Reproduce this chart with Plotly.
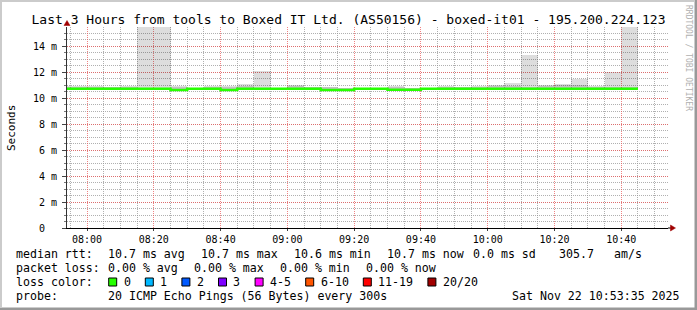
import plotly.graph_objects as go
from datetime import datetime, timedelta

# ---------------- data ----------------
DAY = "2025-11-22"
interval_start = ["07:50", "07:55", "08:00", "08:05", "08:10", "08:15", "08:20", "08:25",
                  "08:30", "08:35", "08:40", "08:45", "08:50", "08:55", "09:00", "09:05",
                  "09:10", "09:15", "09:20", "09:25", "09:30", "09:35", "09:40", "09:45",
                  "09:50", "09:55", "10:00", "10:05", "10:10", "10:15", "10:20", "10:25",
                  "10:30", "10:35", "10:40"]
median_ms = [10.72, 10.72, 10.72, 10.72, 10.72, 10.72, 10.72, 10.62,
             10.72, 10.72, 10.62, 10.72, 10.72, 10.72, 10.72, 10.72,
             10.62, 10.62, 10.72, 10.72, 10.64, 10.64, 10.72, 10.72,
             10.72, 10.72, 10.72, 10.72, 10.72, 10.72, 10.72, 10.72,
             10.72, 10.72, 10.72]
smoke_max_ms = [10.92, 10.92, 10.92, 10.85, 10.95, 16.00, 16.00, 10.95,
                10.80, 10.95, 10.90, 11.05, 12.10, 10.80, 11.00, 10.82,
                10.82, 10.80, 10.80, 10.80, 10.92, 10.74, 10.80, 10.90,
                10.85, 10.90, 11.00, 11.15, 13.30, 10.97, 11.07, 11.50,
                10.90, 12.00, 16.00]
smoke_core_ms = [10.88, 10.88, 10.88, 10.85, 10.88, 10.76, 10.76, 10.88,
                 10.80, 10.88, 10.88, 10.90, 10.76, 10.80, 10.90, 10.82,
                 10.82, 10.80, 10.80, 10.80, 10.88, 10.74, 10.80, 10.88,
                 10.85, 10.88, 10.90, 10.92, 10.85, 10.90, 10.97, 10.97,
                 10.88, 10.85, 10.85]
smoke_min_ms = [10.64, 10.64, 10.64, 10.64, 10.64, 10.64, 10.64, 10.55,
                10.64, 10.64, 10.55, 10.64, 10.64, 10.64, 10.64, 10.64,
                10.55, 10.55, 10.64, 10.64, 10.56, 10.56, 10.64, 10.64,
                10.64, 10.64, 10.64, 10.64, 10.64, 10.64, 10.64, 10.64,
                10.64, 10.64, 10.64]

y_tick_vals = [0, 2, 4, 6, 8, 10, 12, 14]
y_tick_text = ["0\u00a0\u00a0", "2 m", "4 m", "6 m", "8 m", "10 m", "12 m", "14 m"]

title_text = "Last 3 Hours from tools to Boxed IT Ltd. (AS50156) - boxed-it01 - 195.200.224.123"
stats_rtt = ["median rtt:", "10.7 ms avg", "10.7 ms max", "10.6 ms min", "10.7 ms now",
             "0.0 ms sd", "305.7", "am/s"]
stats_loss = ["packet loss:", "0.00 % avg", "0.00 % max", "0.00 % min", "0.00 % now"]
loss_labels = ["0", "1", "2", "3", "4-5", "6-10", "11-19", "20/20"]
loss_colors = ["#26ff00", "#00b8ff", "#0059ff", "#7e00ff", "#ff00ff", "#ff5500", "#ff0000", "#a10000"]
probe_text = ["probe:", "20 ICMP Echo Pings (56 Bytes) every 300s"]
date_text = "Sat Nov 22 10:53:35 2025"

# ---------------- geometry helpers ----------------
W, H = 697, 310
L, R, T, B = 67, 668, 27, 228
MONO = "DejaVu Sans Mono"


def px(x):
    return (x - L) / (R - L)


def py(y):
    return (B - y) / (B - T)


starts = [datetime.fromisoformat(f"{DAY} {s}:00") for s in interval_start]
step = timedelta(minutes=5)
centers = [s + step / 2 for s in starts]

fig = go.Figure()

# outer smoke (min..max)
fig.add_trace(go.Bar(
    x=centers, y=[mx - mn for mx, mn in zip(smoke_max_ms, smoke_min_ms)], base=smoke_min_ms,
    width=300000, marker=dict(color="rgba(0,0,0,0.135)", line=dict(width=0)),
    hoverinfo="skip"))
# inner smoke (core pings)
fig.add_trace(go.Bar(
    x=centers, y=[c - mn for c, mn in zip(smoke_core_ms, smoke_min_ms)], base=smoke_min_ms,
    width=300000, marker=dict(color="rgba(0,0,0,0.12)", line=dict(width=0)),
    hoverinfo="skip"))
# median line
fig.add_trace(go.Scatter(
    x=starts + [starts[-1] + step], y=median_ms + [median_ms[-1]],
    mode="lines", line=dict(color=loss_colors[0], width=2.5, shape="hv"),
    hoverinfo="skip"))

grid_major = "rgba(235,90,90,0.75)"
grid_minor = "rgba(150,150,150,0.75)"

fig.update_layout(
    width=W, height=H,
    margin=dict(l=L, r=W - R, t=T, b=H - B, pad=0),
    paper_bgcolor="#ffffff", plot_bgcolor="#ffffff",
    showlegend=False, barmode="overlay", bargap=0,
    font=dict(family=MONO, size=10, color="#000000"),
    title=dict(text=title_text, x=0.5, xref="container", xanchor="center",
               y=1 - 19 / H, yref="container", yanchor="middle",
               font=dict(family=MONO, size=13, color="#000000")),
    xaxis=dict(
        type="date",
        range=[f"{DAY} 07:54:00", f"{DAY} 10:54:00"],
        tick0=f"{DAY} 08:00:00", dtick=20 * 60 * 1000, tickformat="%H:%M",
        showgrid=True, gridcolor=grid_major, griddash="1px,1px", gridwidth=1,
        ticks="outside", ticklen=2, tickcolor="#444444",
        tickfont=dict(family=MONO, size=10, color="#000000"),
        showline=True, linecolor="#000000", linewidth=1, zeroline=False,
        minor=dict(dtick=5 * 60 * 1000, showgrid=True, gridcolor=grid_minor,
                   griddash="1px,1px", ticks="", ticklen=0),
        fixedrange=True,
    ),
    yaxis=dict(
        range=[0, (B - T) / 13.0],
        tickmode="array", tickvals=y_tick_vals, ticktext=y_tick_text,
        showgrid=True, gridcolor=grid_major, griddash="1px,1px", gridwidth=1,
        ticks="outside", ticklen=4, tickcolor="#444444",
        ticklabelstandoff=3,
        tickfont=dict(family=MONO, size=10, color="#000000"),
        showline=True, linecolor="#333333", linewidth=1, zeroline=False,
        minor=dict(dtick=0.5, showgrid=True, gridcolor=grid_minor,
                   griddash="1px,1px", ticks="outside", ticklen=2, tickcolor="#777777"),
        fixedrange=True,
    ),
)

ann = []


def text(x, y, s, anchor="left", size=11.6, color="#000000", angle=0, family=MONO):
    ann.append(dict(x=px(x), y=py(y), xref="paper", yref="paper", text=s, showarrow=False,
                    xanchor=anchor, yanchor="middle", borderpad=0, textangle=angle,
                    font=dict(family=family, size=size, color=color)))


# y-axis title
text(11, 128, "Seconds", anchor="center", size=11, angle=-90)
# rrdtool credit
text(688, 58, "RRDTOOL / TOBI OETIKER", anchor="center", size=8, color="#b0b0b0", angle=90)

# legend rows
rtt_x = [16, 107.3, 200.7, 293.3, 386.7, 472.7, 558.3, 614]
for s, x in zip(stats_rtt, rtt_x):
    text(x - 0.7, 254, s)
loss_x = [16, 107.3, 193.3, 279.3, 365.3]
for s, x in zip(stats_loss, loss_x):
    text(x - 0.7, 268, s)
text(16 - 0.7, 282, "loss color:")
shapes = []
bx = 108.7
for lab, col in zip(loss_labels, loss_colors):
    shapes.append(dict(type="rect", xref="paper", yref="paper",
                       x0=px(bx), x1=px(bx + 8), y0=py(286), y1=py(278),
                       fillcolor=col, line=dict(color="#000000", width=1)))
    text(bx + 14.6 - 0.7, 282, lab)
    bx = bx + 14.6 + 7.0 * len(lab) + 15.0
text(16 - 0.7, 296, probe_text[0])
text(107.3 - 0.7, 296, probe_text[1])
text(681, 296, date_text, anchor="right")

# axis arrows
shapes.append(dict(type="path", xref="paper", yref="paper",
                   path=f"M {px(64.0)} {py(25.5)} L {px(70.0)} {py(25.5)} L {px(67.0)} {py(20.5)} Z",
                   fillcolor="#a00000", line=dict(color="#a00000", width=0.5)))
shapes.append(dict(type="line", xref="paper", yref="paper",
                   x0=px(668), x1=px(671), y0=py(228), y1=py(228),
                   line=dict(color="#000000", width=1)))
shapes.append(dict(type="path", xref="paper", yref="paper",
                   path=f"M {px(670.5)} {py(225.0)} L {px(670.5)} {py(231.0)} L {px(675.5)} {py(228.0)} Z",
                   fillcolor="#a00000", line=dict(color="#a00000", width=0.5)))

# frame (3d border like rrdtool)
shapes.append(dict(type="rect", xref="paper", yref="paper",
                   x0=px(0), x1=px(W), y0=py(H), y1=py(H - 2.5), fillcolor="#999999",
                   line=dict(width=0)))
shapes.append(dict(type="rect", xref="paper", yref="paper",
                   x0=px(W - 2.5), x1=px(W), y0=py(H), y1=py(0), fillcolor="#999999",
                   line=dict(width=0)))
shapes.append(dict(type="rect", xref="paper", yref="paper",
                   x0=px(0), x1=px(W - 2.5), y0=py(2), y1=py(0), fillcolor="#cbcbcb",
                   line=dict(width=0)))
shapes.append(dict(type="rect", xref="paper", yref="paper",
                   x0=px(0), x1=px(2), y0=py(H - 2.5), y1=py(0), fillcolor="#cbcbcb",
                   line=dict(width=0)))

fig.update_layout(annotations=ann, shapes=shapes)
fig.write_html("out.html")
